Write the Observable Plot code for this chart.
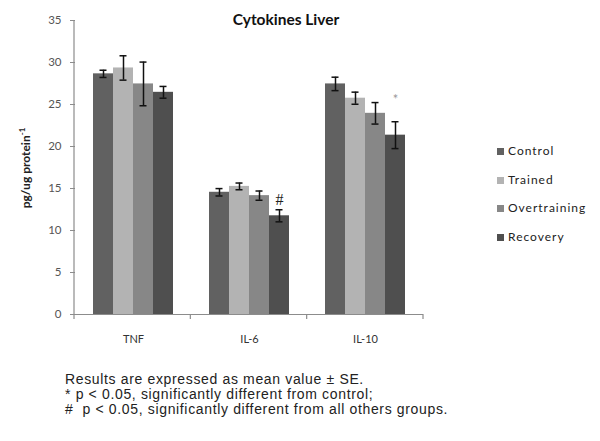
<!DOCTYPE html>
<html>
<head>
<meta charset="utf-8">
<script src="https://cdn.jsdelivr.net/npm/d3@7"></script>
<script src="https://cdn.jsdelivr.net/npm/@observablehq/plot@0.6"></script>
<style>
  html, body { margin: 0; padding: 0; background: #fff; }
  #wrap { position: relative; width: 600px; height: 441px; overflow: hidden; font-family: Lato, "Open Sans", sans-serif; }
  #chart { position: absolute; left: 0; top: 0; }
  #title { position: absolute; left: 186px; width: 200px; top: 10px; text-align: center; font-weight: bold; font-size: 15.5px; color: #111; }
  #ylabel { position: absolute; left: 25px; top: 168px; transform: translate(-50%, -50%) rotate(-90deg); white-space: nowrap; font-weight: bold; font-size: 12px; color: #222; }
  #ylabel sup { font-size: 8px; }
  #legend { position: absolute; left: 497px; top: 143px; font-size: 12px; letter-spacing: 1px; color: #222; }
  #legend .item { height: 28.5px; display: flex; align-items: flex-start; }
  #legend .sw { width: 7px; height: 7px; margin-top: 5px; margin-right: 4px; flex: none; }
  #note { position: absolute; left: 65px; top: 372px; font-family: "Liberation Sans", Arial, sans-serif; font-size: 14px; letter-spacing: 0.65px; line-height: 15px; color: #222; white-space: pre; }
</style>
</head>
<body>
<div id="wrap">
  <div id="chart"></div>
  <div id="title">Cytokines Liver</div>
  <div id="ylabel">pg/ug protein<sup>-1</sup></div>
  <div id="legend"></div>
  <div id="note"></div>
</div>
<script>
// ---- data ----
const categories = ["TNF", "IL-6", "IL-10"];
const groups = ["Control", "Trained", "Overtraining", "Recovery"];
const colors = ["#616161", "#b3b3b3", "#878787", "#4f4f4f"];
// means per group, in category order
const controlMean      = [28.65, 14.55, 27.45];
const trainedMean      = [29.35, 15.25, 25.75];
const overtrainingMean = [27.45, 14.15, 23.95];
const recoveryMean     = [26.45, 11.75, 21.35];
// standard errors per group, in category order
const controlSE      = [0.43, 0.44, 0.80];
const trainedSE      = [1.45, 0.40, 0.72];
const overtrainingSE = [2.60, 0.55, 1.28];
const recoverySE     = [0.70, 0.72, 1.60];
const yTicks = [0, 5, 10, 15, 20, 25, 30, 35];
// significance marks
const marks = [
  {cat: "IL-6", group: "Recovery", y: 13.6, label: "#"},
  {cat: "IL-10", group: "Recovery", y: 25.5, label: "*"}
];
const noteLines = [
  "Results are expressed as mean value \u00b1 SE.",
  "* p < 0.05, significantly different from control;",
  "#  p < 0.05, significantly different from all others groups."
];

// ---- table ----
const means = [controlMean, trainedMean, overtrainingMean, recoveryMean];
const ses = [controlSE, trainedSE, overtrainingSE, recoverySE];
const rows = [];
categories.forEach((c, ci) => groups.forEach((g, gi) => {
  rows.push({cat: c, group: g, value: means[gi][ci], se: ses[gi][ci]});
}));

const plot = Plot.plot({
  width: 600,
  height: 354,
  marginLeft: 74,
  marginRight: 177,
  marginTop: 20,
  marginBottom: 40,
  style: {fontFamily: "Lato, 'Open Sans', sans-serif", background: "transparent"},
  fx: {domain: categories, padding: 0, label: null},
  x: {domain: groups, paddingInner: 0, paddingOuter: 0.77, axis: null},
  y: {domain: [0, 35], label: null},
  color: {domain: groups, range: colors},
  marks: [
    Plot.axisY({ticks: yTicks, tickSize: 5, tickPadding: 9, stroke: "#8c8c8c", color: "#555", fontSize: 11.5, tickFormat: d => d}),
    Plot.axisFx({anchor: "bottom", tickSize: 0, tickPadding: 21, fontSize: 11, color: "#333"}),
    Plot.barY(rows, {fx: "cat", x: "group", y: "value", fill: "group"}),
    Plot.ruleX(rows, {fx: "cat", x: "group", y1: d => d.value - d.se, y2: d => d.value + d.se, stroke: "#111", strokeWidth: 1.5}),
    Plot.tickY(rows, {fx: "cat", x: "group", y: d => d.value + d.se, stroke: "#111", strokeWidth: 1.5, insetLeft: 6.5, insetRight: 6.5}),
    Plot.tickY(rows, {fx: "cat", x: "group", y: d => d.value - d.se, stroke: "#111", strokeWidth: 1.5, insetLeft: 6.5, insetRight: 6.5}),
    Plot.ruleY([0], {stroke: "#8c8c8c", strokeWidth: 1.2}),
    Plot.text(marks.filter(d => d.label === "#"), {fx: "cat", x: "group", y: "y", text: "label", fontSize: 16, fill: "#222", fontFamily: "'Liberation Serif', serif"}),
    Plot.text(marks.filter(d => d.label === "*"), {fx: "cat", x: "group", y: "y", text: "label", fontSize: 13, fill: "#999"})
  ]
});
document.getElementById("chart").appendChild(plot);

// axis lines and category boundary ticks, positioned with the plot's own scales
const fxs = plot.scale("fx");
const ys = plot.scale("y");
const band = d3.scaleBand().domain(fxs.domain).range(fxs.range).padding(0);
const yScale = d3.scaleLinear().domain(ys.domain).range(ys.range);
const svg = d3.select(plot);
const y0 = yScale(0);
svg.append("line")
  .attr("x1", band.range()[0]).attr("x2", band.range()[0])
  .attr("y1", yScale(35)).attr("y2", y0)
  .attr("stroke", "#8c8c8c").attr("stroke-width", 1.2);
const bounds = fxs.domain.map(d => band(d)).concat([band.range()[1]]);
svg.selectAll("line.bt").data(bounds).join("line")
  .attr("class", "bt")
  .attr("x1", d => d).attr("x2", d => d)
  .attr("y1", y0).attr("y2", y0 + 5)
  .attr("stroke", "#8c8c8c").attr("stroke-width", 1.2);

// legend
const lg = d3.select("#legend");
groups.forEach((g, i) => {
  const it = lg.append("div").attr("class", "item");
  it.append("div").attr("class", "sw").style("background", colors[i]);
  it.append("span").text(g);
});
// note
document.getElementById("note").textContent = noteLines.join("\n");
</script>
</body>
</html>
